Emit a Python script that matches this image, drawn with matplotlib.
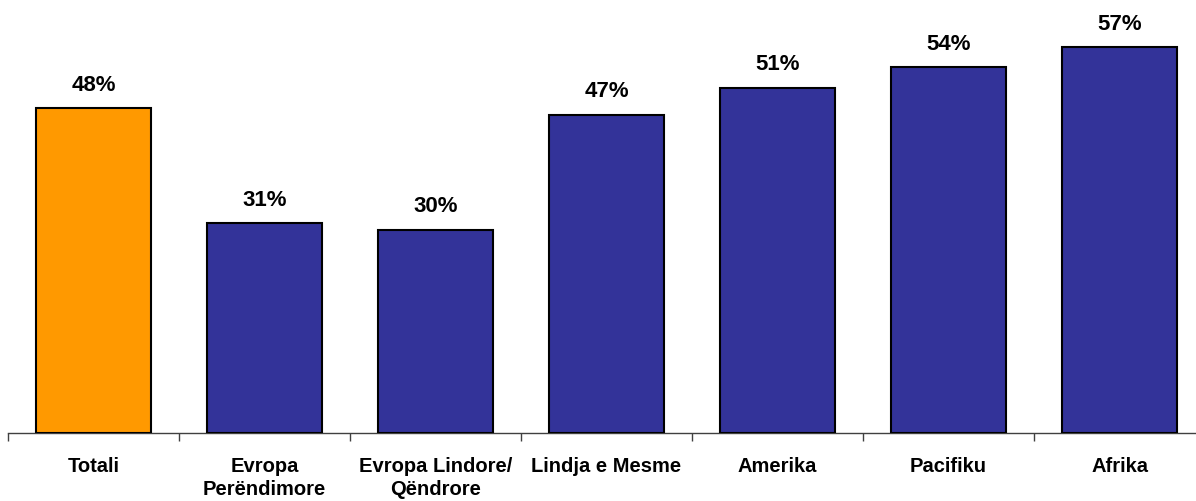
import matplotlib
matplotlib.use("Agg")
import matplotlib.pyplot as plt
import numpy as np

categories = ["Totali", "Evropa\nPerëndimore", "Evropa Lindore/\nQëndrore",
              "Lindja e Mesme", "Amerika", "Pacifiku", "Afrika"]
values = [48, 31, 30, 47, 51, 54, 57]
labels = ["48%", "31%", "30%", "47%", "51%", "54%", "57%"]
colors = ["#FF9900"] + ["#333399"] * 6

plt.rcParams['font.family'] = ['Liberation Sans', 'DejaVu Sans']

W, H = 1196, 501
fig = plt.figure(figsize=(W / 100, H / 100), dpi=100)
step = 171
ax = fig.add_axes([8 / W, 68 / H, 7 * step / W, 60 * 6.77 / H])

x = np.arange(len(categories))
bars = ax.bar(x, values, width=0.667, color=colors, edgecolor="black", linewidth=1.5, zorder=3)

for xi, v, lab in zip(x, values, labels):
    ax.annotate(lab, (xi, v), xytext=(0, 9), textcoords="offset points",
                ha="center", va="bottom", fontsize=16, fontweight="bold", clip_on=False)

ax.set_xlim(-0.5, len(categories) - 0.5)
ax.set_ylim(0, 60)

for s in ["top", "right", "left"]:
    ax.spines[s].set_visible(False)
ax.spines["bottom"].set_color("#404040")
ax.spines["bottom"].set_linewidth(1.0)
ax.set_yticks([])

ax.set_xticks(x)
ax.set_xticklabels(categories, fontsize=14.5, fontweight="bold", linespacing=1.3)
ax.tick_params(axis="x", which="major", length=0, pad=17)
ax.set_xticks(np.arange(-0.5, len(categories), 1.0), minor=True)
ax.tick_params(axis="x", which="minor", length=6, width=1.0, color="#404040")

fig.savefig("out.png", dpi=100)
